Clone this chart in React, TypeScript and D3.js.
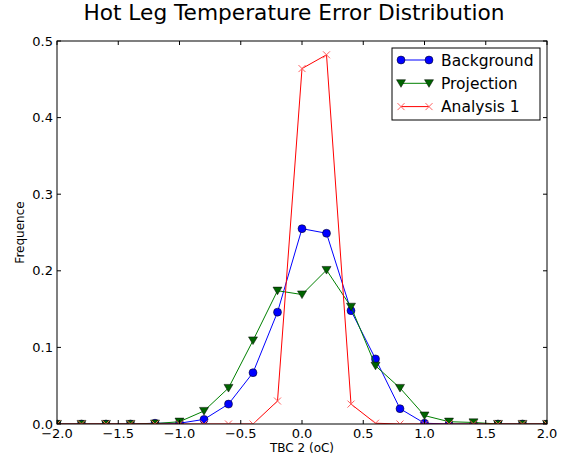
import React from "react";
import * as d3 from "d3";

const xValues = [-2.0, -1.8, -1.6, -1.4, -1.2, -1.0, -0.8, -0.6, -0.4, -0.2, 0.0, 0.2, 0.4, 0.6, 0.8, 1.0, 1.2, 1.4, 1.6, 1.8, 2.0];
const background = [0, 0, 0, 0, 0.001, 0.001, 0.006, 0.026, 0.067, 0.146, 0.255, 0.249, 0.148, 0.085, 0.020, 0.001, 0, 0, 0, 0, 0];
const projection = [0, 0, 0, 0, 0.0005, 0.003, 0.017, 0.047, 0.109, 0.174, 0.169, 0.201, 0.153, 0.076, 0.047, 0.011, 0.003, 0.002, 0, 0, 0];
const analysis1 = [0, 0, 0, 0, 0, 0, 0, 0, 0, 0.030, 0.464, 0.482, 0.026, 0.001, 0, 0, 0, 0, 0, 0, 0];
const xTicks = [-2.0, -1.5, -1.0, -0.5, 0.0, 0.5, 1.0, 1.5, 2.0];
const yTicks = [0.0, 0.1, 0.2, 0.3, 0.4, 0.5];
const seriesNames = ["Background", "Projection", "Analysis 1"];

const W = 571, H = 460;
const L = 57, R = 547, T = 41, B = 424;
const FONT = "DejaVu Sans, sans-serif";

const x = d3.scaleLinear().domain([-2, 2]).range([L, R]);
const y = d3.scaleLinear().domain([0, 0.5]).range([B, T]);

const fmt = (v: number) => v.toFixed(1).replace("-", "\u2212");

function Marker({ kind, cx, cy }: { kind: string; cx: number; cy: number }) {
  if (kind === "circle") return <circle cx={cx} cy={cy} r={4} fill="#0000ff" stroke="#000" strokeWidth={0.5} />;
  if (kind === "tri") {
    const s = 4.5;
    return <path d={`M${cx - s},${cy - s * 0.8} L${cx + s},${cy - s * 0.8} L${cx},${cy + s * 0.9} Z`} fill="#006400" stroke="#000" strokeWidth={0.5} />;
  }
  const s = 3.5;
  return <path d={`M${cx - s},${cy - s} L${cx + s},${cy + s} M${cx - s},${cy + s} L${cx + s},${cy - s}`} stroke="#ff6060" strokeWidth={1} fill="none" />;
}

export default function App() {
  const series = [
    { name: seriesNames[0], data: background, color: "#0000ff", kind: "circle" },
    { name: seriesNames[1], data: projection, color: "#008000", kind: "tri" },
    { name: seriesNames[2], data: analysis1, color: "#ff0000", kind: "x" },
  ];
  const line = d3.line<number>().x((_, i) => x(xValues[i])).y((d) => y(d));
  const tickLen = 4;
  const legX = 392, legY = 48, legW = 148, legH = 72;
  return (
    <svg width={W} height={H} style={{ display: "block", position: "absolute", left: 0, top: 0 }} fontFamily={FONT}>
      <rect x={0} y={0} width={W} height={H} fill="#fff" />
      <defs>
        <clipPath id="plotclip">
          <rect x={L} y={T} width={R - L} height={B - T} />
        </clipPath>
      </defs>
      <text x={294} y={19.5} textAnchor="middle" fontSize={21.7} fill="#000">Hot Leg Temperature Error Distribution</text>
      <g clipPath="url(#plotclip)">
        {series.map((s) => (
          <g key={s.name}>
            <path d={line(s.data) || ""} fill="none" stroke={s.color} strokeWidth={1} />
            {s.data.map((v, i) => (
              <Marker key={i} kind={s.kind} cx={x(xValues[i])} cy={y(v)} />
            ))}
          </g>
        ))}
      </g>
      <rect x={L} y={T} width={R - L} height={B - T} fill="none" stroke="#000" strokeWidth={1} />
      {xTicks.map((t) => (
        <g key={"x" + t}>
          <line x1={x(t)} x2={x(t)} y1={B} y2={B - tickLen} stroke="#000" />
          <line x1={x(t)} x2={x(t)} y1={T} y2={T + tickLen} stroke="#000" />
          <text x={x(t)} y={B + 13.5} textAnchor="middle" fontSize={13} fill="#000">{fmt(t)}</text>
        </g>
      ))}
      {yTicks.map((t) => (
        <g key={"y" + t}>
          <line x1={L} x2={L + tickLen} y1={y(t)} y2={y(t)} stroke="#000" />
          <line x1={R} x2={R - tickLen} y1={y(t)} y2={y(t)} stroke="#000" />
          <text x={L - 4} y={y(t) + 4.5} textAnchor="end" fontSize={13} fill="#000">{fmt(t)}</text>
        </g>
      ))}
      <text x={(L + R) / 2} y={452} textAnchor="middle" fontSize={12} fill="#000">TBC 2 (oC)</text>
      <text transform={`translate(24,${(T + B) / 2}) rotate(-90)`} textAnchor="middle" fontSize={12} fill="#000">Frequence</text>
      <rect x={legX} y={legY} width={legW} height={legH} fill="#fff" stroke="#000" strokeWidth={1} />
      {series.map((s, i) => {
        const ry = 60 + i * 23.3;
        return (
          <g key={"leg" + s.name}>
            <line x1={401} x2={429} y1={ry} y2={ry} stroke={s.color} strokeWidth={1} />
            <Marker kind={s.kind} cx={401} cy={ry} />
            <Marker kind={s.kind} cx={429} cy={ry} />
            <text x={441} y={ry + 5.5} fontSize={15.5} fill="#000">{s.name}</text>
          </g>
        );
      })}
    </svg>
  );
}
